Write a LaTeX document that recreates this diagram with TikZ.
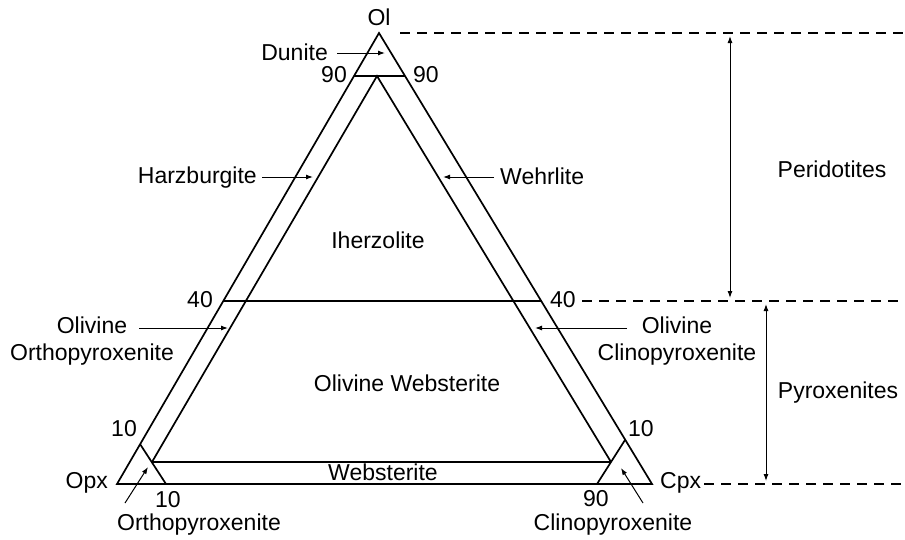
\documentclass[tikz,border=0pt]{standalone}
\usepackage{fontspec}
\setmainfont{Liberation Sans}
\usetikzlibrary{arrows.meta}
\begin{document}
\begin{tikzpicture}[x=1pt,y=-1pt,
  edge/.style={line width=1.7pt, line join=miter},
  lbl/.style={inner sep=0pt, font=\fontsize{23}{27}\selectfont},
  pointer/.style={line width=1pt, -{Latex[length=7pt,width=5pt]}},
  twoway/.style={line width=1pt, {Latex[length=7pt,width=5pt]}-{Latex[length=7pt,width=5pt]}},
  guide/.style={line width=1.2pt, dash pattern=on 10pt off 7pt}]
\useasboundingbox (0,0) rectangle (905,539);

% corners and division points
\coordinate (Ol)  at (379,33);
\coordinate (Opx) at (117,484);
\coordinate (Cpx) at (652,484);
\coordinate (n90L) at (354,76);
\coordinate (n90R) at (405,76);
\coordinate (inTop) at (377,76);
\coordinate (n40L) at (223,301);
\coordinate (n40R) at (541,301);
\coordinate (inL) at (152,462);
\coordinate (inR) at (611,462);
\coordinate (oL)  at (140,444);
\coordinate (oLb) at (166,484);
\coordinate (cR)  at (625,440);
\coordinate (cRb) at (597,484);

% triangle and field boundaries
\draw[edge] (Ol) -- (Opx) -- (Cpx) -- cycle;
\draw[edge] (n90L) -- (n90R);
\draw[edge] (n40L) -- (n40R);
\draw[edge] (inL) -- (inTop) -- (inR);
\draw[edge] (inL) -- (inR);
\draw[edge] (oL) -- (oLb);
\draw[edge] (cR) -- (cRb);

% dashed guides
\coordinate (gTop) at (905,33);
\coordinate (gMid) at (905,301);
\coordinate (gBot) at (905,484);
\coordinate (gTopS) at (400,33);
\coordinate (gMidS) at (582,301);
\coordinate (gBotS) at (704,484);
\draw[guide] (gTopS) -- (gTop);
\draw[guide] (gMidS) -- (gMid);
\draw[guide] (gBotS) -- (gBot);

% range arrows
\coordinate (pA) at (730,36);
\coordinate (pB) at (730,298);
\coordinate (xA) at (766,304);
\coordinate (xB) at (766,481);
\draw[twoway] (pA) -- (pB);
\draw[twoway] (xA) -- (xB);

% labels
\node[lbl, anchor=base] (tOl) at (379,25) {Ol};
\node[lbl, anchor=base east] (tOpx) at (108,488) {Opx};
\node[lbl, anchor=base west] (tCpx) at (660,488) {Cpx};
\node[lbl, anchor=base east] (tDun) at (328,60) {Dunite};
\node[lbl, anchor=base east] (t90a) at (347,82) {90};
\node[lbl, anchor=base west] (t90b) at (413,82) {90};
\node[lbl, anchor=base east] (tHz) at (257,183) {Harzburgite};
\node[lbl, anchor=base west] (tWh) at (500,184) {Wehrlite};
\node[lbl, anchor=base] (tLh) at (378,248) {Iherzolite};
\node[lbl, anchor=base east] (t40a) at (213,307) {40};
\node[lbl, anchor=base west] (t40b) at (550,307) {40};
\node[lbl, anchor=base, align=center] (tOOp) at (92,360) {Olivine\\Orthopyroxenite};
\node[lbl, anchor=base, align=center] (tOCp) at (677,360) {Olivine\\Clinopyroxenite};
\node[lbl, anchor=base] (tOW) at (407,391) {Olivine Websterite};
\node[lbl, anchor=base east] (t10a) at (137,436) {10};
\node[lbl, anchor=base west] (t10b) at (628,436) {10};
\node[lbl, anchor=base] (tWb) at (383,480) {Websterite};
\node[lbl, anchor=base west] (t10c) at (155,507) {10};
\node[lbl, anchor=base west] (t90c) at (583,506) {90};
\node[lbl, anchor=base] (tOp) at (199,530) {Orthopyroxenite};
\node[lbl, anchor=base] (tCp) at (613,530) {Clinopyroxenite};
\node[lbl, anchor=base] (tPer) at (832,177) {Peridotites};
\node[lbl, anchor=base] (tPyr) at (838,398) {Pyroxenites};

% pointer arrows
\coordinate (dS) at (337,53);   \coordinate (dT) at (385,53);
\coordinate (hS) at (262,177);  \coordinate (hT) at (313,177);
\coordinate (wS) at (494,177);  \coordinate (wT) at (443,177);
\coordinate (ooS) at (139,328); \coordinate (ooT) at (228,328);
\coordinate (ocS) at (627,328); \coordinate (ocT) at (535,328);
\coordinate (opS) at (125,503); \coordinate (opT) at (148,467);
\coordinate (cpS) at (643,503); \coordinate (cpT) at (621,468);
\draw[pointer] (dS) -- (dT);
\draw[pointer] (hS) -- (hT);
\draw[pointer] (wS) -- (wT);
\draw[pointer] (ooS) -- (ooT);
\draw[pointer] (ocS) -- (ocT);
\draw[pointer] (opS) -- (opT);
\draw[pointer] (cpS) -- (cpT);
\end{tikzpicture}
\end{document}
